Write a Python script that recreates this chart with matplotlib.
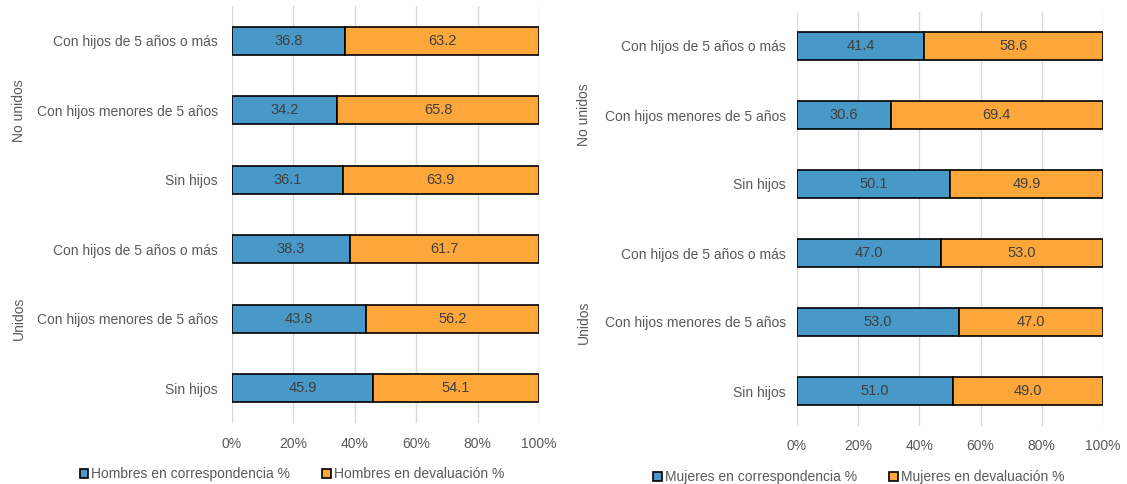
import matplotlib.pyplot as plt
import matplotlib.transforms as mtransforms
from matplotlib.patches import Patch

plt.rcParams['font.family'] = ['Liberation Sans', 'DejaVu Sans']

categorias = ['Con hijos de 5 años o más', 'Con hijos menores de 5 años', 'Sin hijos',
              'Con hijos de 5 años o más', 'Con hijos menores de 5 años', 'Sin hijos']
grupos = ['No unidos', 'Unidos']

hombres_corr = [36.8, 34.2, 36.1, 38.3, 43.8, 45.9]
hombres_dev = [63.2, 65.8, 63.9, 61.7, 56.2, 54.1]
mujeres_corr = [41.4, 30.6, 50.1, 47.0, 53.0, 51.0]
mujeres_dev = [58.6, 69.4, 49.9, 53.0, 47.0, 49.0]

AZUL = '#4899C8'
NARANJA = '#FDA73B'
TEXTO = '#404040'
ETIQ = '#595959'
FS = 10


def panel(fig, rect, corr, dev, nombres, legend_xy, group_x, ypad):
    ax = fig.add_axes(rect)
    y = list(range(len(categorias)))
    ax.barh(y, corr, height=0.4, color=AZUL, edgecolor='black', linewidth=1.2, zorder=3)
    ax.barh(y, dev, left=corr, height=0.4, color=NARANJA, edgecolor='black', linewidth=1.2, zorder=3)
    for yi, c, d in zip(y, corr, dev):
        ax.text(c / 2, yi, f'{c:.1f}', ha='center', va='center', color=TEXTO, fontsize=10.5, zorder=4)
        ax.text(c + d / 2, yi, f'{d:.1f}', ha='center', va='center', color=TEXTO, fontsize=10.5, zorder=4)
    ax.set_xlim(0, 100)
    ax.set_ylim(-0.5, len(categorias) - 0.5)
    ax.invert_yaxis()
    ax.set_yticks(y)
    ax.set_yticklabels(categorias)
    ax.set_xticks([0, 20, 40, 60, 80, 100])
    ax.set_xticklabels(['0%', '20%', '40%', '60%', '80%', '100%'])
    ax.tick_params(axis='y', length=0, pad=ypad, labelsize=FS, labelcolor=ETIQ)
    ax.tick_params(axis='x', length=0, pad=10, labelsize=FS, labelcolor=ETIQ)
    ax.grid(axis='x', color='#d9d9d9', linewidth=1, zorder=0)
    for s in ax.spines.values():
        s.set_visible(False)

    trans = mtransforms.blended_transform_factory(fig.transFigure, ax.transData)
    for g, yc in zip(grupos, [1, 4]):
        ax.text(group_x, yc, g, transform=trans, rotation=90, ha='center', va='center',
                color=ETIQ, fontsize=FS)

    handles = [Patch(facecolor=AZUL, edgecolor='black', linewidth=1.2),
               Patch(facecolor=NARANJA, edgecolor='black', linewidth=1.2)]
    fig.legend(handles, nombres, loc='center', bbox_to_anchor=legend_xy, ncol=2,
               frameon=False, fontsize=FS, handlelength=0.6, handleheight=0.6,
               handletextpad=0.25, columnspacing=2.3, labelcolor=ETIQ)
    return ax


fig = plt.figure(figsize=(11.27, 4.84), dpi=100)
W, H = 1127, 484

panel(fig, [232 / W, 1 - 423 / H, (539 - 232) / W, (423 - 6) / H],
      hombres_corr, hombres_dev,
      ['Hombres en correspondencia %', 'Hombres en devaluación %'],
      (292 / W, 1 - 474 / H), 19 / W, 10)

panel(fig, [797 / W, 1 - 425.5 / H, (1103 - 797) / W, (425.5 - 11.5) / H],
      mujeres_corr, mujeres_dev,
      ['Mujeres en correspondencia %', 'Mujeres en devaluación %'],
      (859 / W, 1 - 477 / H), 584 / W, 8)

fig.savefig('out.png', dpi=100)
